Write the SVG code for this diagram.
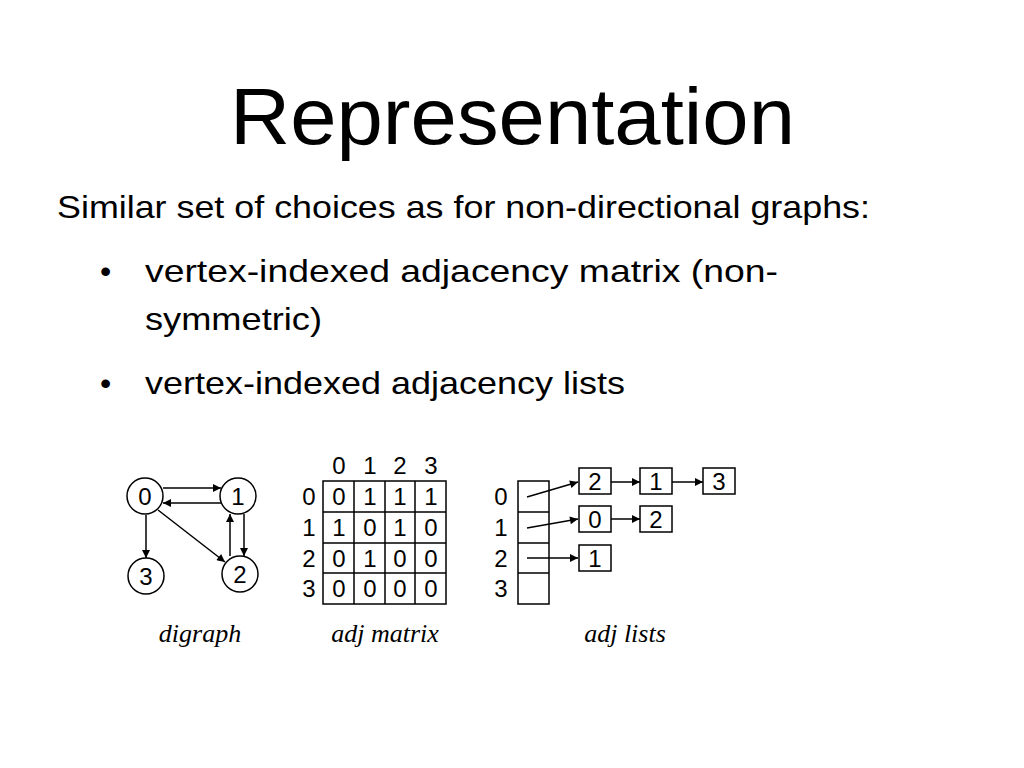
<svg xmlns="http://www.w3.org/2000/svg" width="1024" height="768" viewBox="0 0 1024 768">
<style>
.t{font-family:"Liberation Sans",Arial,sans-serif;fill:#000}
.f{font-family:"Liberation Sans",Arial,sans-serif;font-size:24px;text-anchor:middle;fill:#000}
.c{font-family:"Liberation Serif",serif;font-style:italic;font-size:26px;text-anchor:middle}
.n{fill:#fff;stroke:#000;stroke-width:1.5}
.e{stroke:#000;stroke-width:1.5;fill:none;marker-end:url(#a)}
</style>
<defs><marker id="a" viewBox="0 0 10 10" refX="10" refY="5" markerWidth="14" markerHeight="8" orient="auto" markerUnits="userSpaceOnUse"><path d="M0,0L10,5L0,10z"/></marker></defs>
<rect width="1024" height="768" fill="#fff"/>
<text class="t" x="230" y="144" font-size="80" textLength="565" lengthAdjust="spacingAndGlyphs">Representation</text>
<text class="t" x="57" y="218" font-size="32" textLength="813" lengthAdjust="spacingAndGlyphs">Similar set of choices as for non-directional graphs:</text>
<text class="t" x="100" y="282" font-size="32">•</text>
<text class="t" x="145" y="282" font-size="32" textLength="633" lengthAdjust="spacingAndGlyphs">vertex-indexed adjacency matrix   (non-</text>
<text class="t" x="145" y="330" font-size="32" textLength="177" lengthAdjust="spacingAndGlyphs">symmetric)</text>
<text class="t" x="100" y="394" font-size="32">•</text>
<text class="t" x="145" y="394" font-size="32" textLength="480" lengthAdjust="spacingAndGlyphs">vertex-indexed adjacency lists</text>
<g id="connectors">
<line class="e" x1="163" y1="488" x2="221" y2="488"/>
<line class="e" x1="221" y1="503" x2="163" y2="503"/>
<line class="e" x1="146" y1="515" x2="146" y2="558"/>
<line class="e" x1="158" y1="510" x2="225" y2="562"/>
<line class="e" x1="244" y1="514" x2="244" y2="556"/>
<line class="e" x1="230" y1="556" x2="230" y2="514"/>
<line class="e" x1="527" y1="497" x2="578" y2="482"/>
<line class="e" x1="527" y1="528" x2="578" y2="519"/>
<line class="e" x1="527" y1="558" x2="578" y2="558"/>
<line class="e" x1="611" y1="482" x2="640" y2="482"/>
<line class="e" x1="672" y1="482" x2="703" y2="482"/>
<line class="e" x1="611" y1="519" x2="640" y2="519"/>
</g>
<g id="node0"><ellipse class="n" cx="145" cy="496" rx="18" ry="18"/><text class="f" x="145" y="505">0</text></g>
<g id="node1"><ellipse class="n" cx="238" cy="496" rx="18" ry="18"/><text class="f" x="238" y="505">1</text></g>
<g id="node3"><ellipse class="n" cx="146" cy="576" rx="18" ry="18"/><text class="f" x="146" y="585">3</text></g>
<g id="node2"><ellipse class="n" cx="240" cy="574" rx="18" ry="18"/><text class="f" x="240" y="583">2</text></g>
<g id="matrix" fill="none" stroke="#000" stroke-width="1.5">
<rect x="323" y="481" width="123" height="123"/>
<path d="M354,481V604M385,481V604M415,481V604M323,512H446M323,543H446M323,573H446"/>
</g>
<g id="matrix-text" class="f">
<text x="339" y="474">0</text><text x="370" y="474">1</text><text x="400" y="474">2</text><text x="431" y="474">3</text>
<text x="309" y="505">0</text><text x="309" y="536">1</text><text x="309" y="567">2</text><text x="309" y="597">3</text>
<text x="339" y="505">0</text><text x="370" y="505">1</text><text x="400" y="505">1</text><text x="431" y="505">1</text>
<text x="339" y="536">1</text><text x="370" y="536">0</text><text x="400" y="536">1</text><text x="431" y="536">0</text>
<text x="339" y="567">0</text><text x="370" y="567">1</text><text x="400" y="567">0</text><text x="431" y="567">0</text>
<text x="339" y="597">0</text><text x="370" y="597">0</text><text x="400" y="597">0</text><text x="431" y="597">0</text>
</g>
<g id="array" fill="none" stroke="#000" stroke-width="1.5">
<rect x="518" y="481" width="31" height="123"/>
<path d="M518,512H549M518,543H549M518,573H549"/>
</g>
<g class="f"><text x="501" y="505">0</text><text x="501" y="536">1</text><text x="501" y="567">2</text><text x="501" y="597">3</text></g>
<g id="lists">
<rect class="n" x="579" y="468" width="32" height="26"/><text class="f" x="595" y="490">2</text>
<rect class="n" x="640" y="468" width="32" height="26"/><text class="f" x="656" y="490">1</text>
<rect class="n" x="703" y="468" width="32" height="26"/><text class="f" x="719" y="490">3</text>
<rect class="n" x="579" y="506" width="32" height="26"/><text class="f" x="595" y="528">0</text>
<rect class="n" x="640" y="506" width="32" height="26"/><text class="f" x="656" y="528">2</text>
<rect class="n" x="579" y="545" width="32" height="26"/><text class="f" x="595" y="567">1</text>
</g>
<text class="c" x="200" y="642">digraph</text>
<text class="c" x="385" y="642">adj matrix</text>
<text class="c" x="625" y="642">adj lists</text>
</svg>
